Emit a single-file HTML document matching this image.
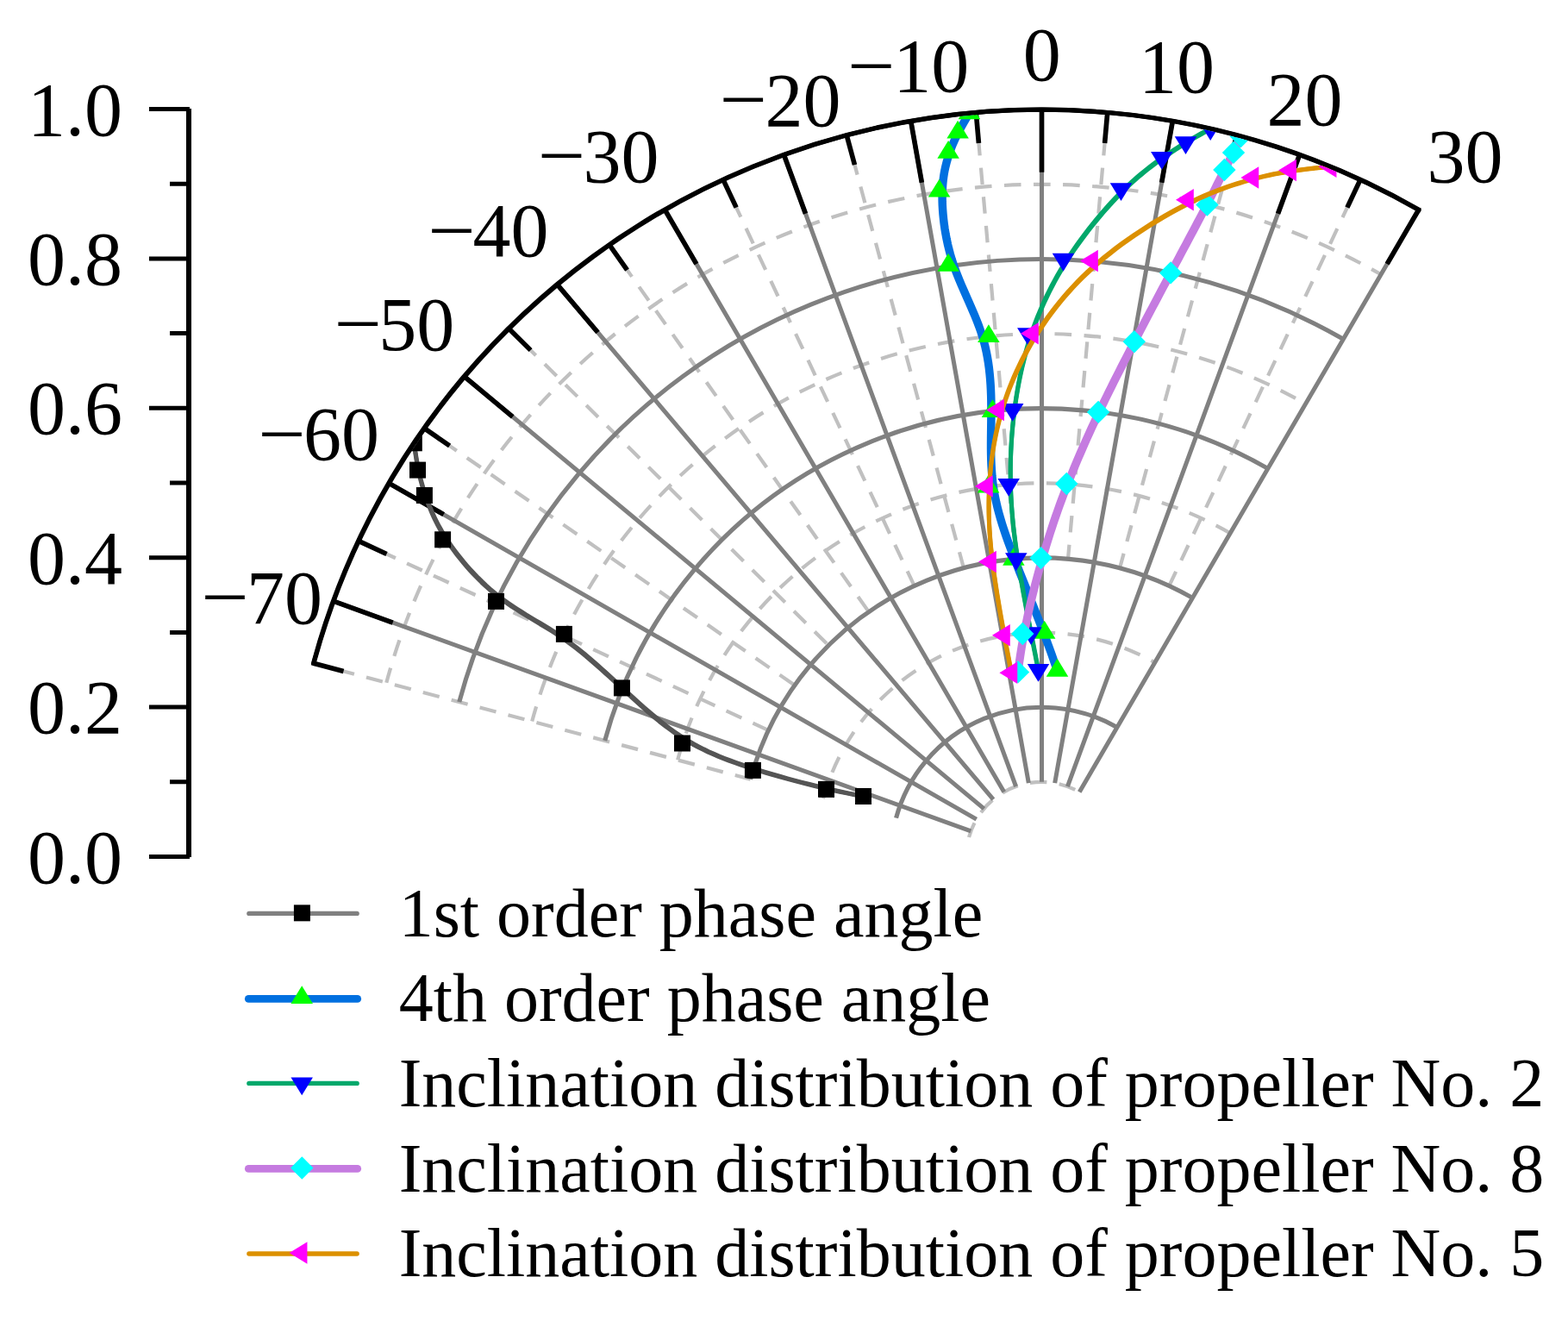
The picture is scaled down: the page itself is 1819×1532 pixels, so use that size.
<!DOCTYPE html>
<html lang="en"><head><meta charset="utf-8"><title>Polar chart</title>
<style>html,body{margin:0;padding:0;background:#fff}body{width:1819px;height:1532px;overflow:hidden}svg{display:block}text{font-family:"Liberation Serif",serif;fill:#000}.t{font-size:88px}.l{font-size:80px}</style></head><body>
<svg width="1819" height="1532" viewBox="0 0 1819 1532" role="img" aria-label="Polar chart of phase angles and propeller inclination distributions">
<rect width="1819" height="1532" fill="#fff"/>
<defs><clipPath id="c"><path d="M1208.5 993.5L366.43 769.98A871.77 863.6 0 0 1 1644.39 245.6Z"/></clipPath></defs>
<g transform="matrix(1.00947 0 0 1 -11.44 0)" fill="none">
<path d="M371.72 769.29L873.79 903.81" stroke="#c0c0c0" stroke-width="4.2" stroke-dasharray="19.4 14.35" stroke-dashoffset="4.8"/>
<path d="M423.37 627.39L894.45 847.05" stroke="#c0c0c0" stroke-width="4.2" stroke-dasharray="19.4 14.35" stroke-dashoffset="6.2"/>
<path d="M498.87 496.61L924.65 794.74" stroke="#c0c0c0" stroke-width="4.2" stroke-dasharray="19.4 14.35" stroke-dashoffset="7.6"/>
<path d="M595.93 380.93L963.47 748.47" stroke="#c0c0c0" stroke-width="4.2" stroke-dasharray="19.4 14.35" stroke-dashoffset="9.0"/>
<path d="M711.61 283.87L1009.74 709.65" stroke="#c0c0c0" stroke-width="4.2" stroke-dasharray="19.4 14.35" stroke-dashoffset="8.0"/>
<path d="M842.39 208.37L1062.05 679.45" stroke="#c0c0c0" stroke-width="4.2" stroke-dasharray="19.4 14.35" stroke-dashoffset="5.3"/>
<path d="M984.29 156.72L1118.81 658.79" stroke="#c0c0c0" stroke-width="4.2" stroke-dasharray="19.4 14.35" stroke-dashoffset="5.6"/>
<path d="M1133 130.5L1178.3 648.3" stroke="#c0c0c0" stroke-width="4.2" stroke-dasharray="19.4 14.35" stroke-dashoffset="3.1"/>
<path d="M1284 130.5L1238.7 648.3" stroke="#c0c0c0" stroke-width="4.2" stroke-dasharray="19.4 14.35" stroke-dashoffset="3.1"/>
<path d="M1432.71 156.72L1298.19 658.79" stroke="#c0c0c0" stroke-width="4.2" stroke-dasharray="19.4 14.35" stroke-dashoffset="4.0"/>
<path d="M1574.61 208.37L1354.95 679.45" stroke="#c0c0c0" stroke-width="4.2" stroke-dasharray="19.4 14.35" stroke-dashoffset="4.8"/>
<path d="M1124.82 971.08A86.63 86.63 0 0 1 1251.82 918.48" stroke="#c0c0c0" stroke-width="4.2" stroke-dasharray="19.4 14.35" stroke-dashoffset="1.5"/>
<path d="M957.47 926.24A259.89 259.89 0 0 1 1338.44 768.43" stroke="#c0c0c0" stroke-width="4.2" stroke-dasharray="19.4 14.35" stroke-dashoffset="1.5"/>
<path d="M790.11 881.39A433.15 433.15 0 0 1 1425.08 618.38" stroke="#c0c0c0" stroke-width="4.2" stroke-dasharray="19.4 14.35" stroke-dashoffset="1.5"/>
<path d="M622.75 836.55A606.41 606.41 0 0 1 1511.7 468.33" stroke="#c0c0c0" stroke-width="4.2" stroke-dasharray="19.4 14.35" stroke-dashoffset="1.5"/>
<path d="M455.4 791.71A779.67 779.67 0 0 1 1598.34 318.29" stroke="#c0c0c0" stroke-width="4.2" stroke-dasharray="19.4 14.35" stroke-dashoffset="1.5"/>
<path d="M394.44 697.21L1127.09 963.87M458.26 560.35L1133.48 950.18M544.88 436.65L1142.14 937.82M651.65 329.88L1152.82 927.14M775.35 243.26L1165.18 918.48M912.21 179.44L1178.87 912.09M1058.07 140.36L1193.46 908.19M1208.5 127.2L1208.5 906.87M1358.93 140.36L1223.54 908.19M1504.79 179.44L1238.13 912.09M1641.65 243.26L1251.82 918.48" stroke="#808080" stroke-width="5.0"/>
<path d="M1041.14 948.66A173.26 173.26 0 0 1 1295.13 843.45M873.79 903.81A346.52 346.52 0 0 1 1381.76 693.4M706.43 858.97A519.78 519.78 0 0 1 1468.39 543.36M539.07 814.13A693.04 693.04 0 0 1 1555.02 393.31" stroke="#808080" stroke-width="5.1"/>
<path d="M394.44 697.21L462.67 722.04M458.26 560.35L521.14 596.65M544.88 436.65L600.49 483.32M651.65 329.88L698.32 385.49M775.35 243.26L811.65 306.14M912.21 179.44L937.04 247.67M1058.07 140.36L1070.68 211.86M1208.5 127.2L1208.5 199.8M1358.93 140.36L1346.32 211.86M1504.79 179.44L1479.96 247.67M1641.65 243.26L1605.35 306.14M371.72 769.29L406.11 778.5M423.37 627.39L455.63 642.43M498.87 496.61L528.03 517.03M595.93 380.93L621.11 406.11M711.61 283.87L732.03 313.03M842.39 208.37L857.43 240.63M984.29 156.72L993.5 191.11M1133 130.5L1136.1 165.96M1284 130.5L1280.9 165.96M1432.71 156.72L1423.5 191.11M1574.61 208.37L1559.57 240.63" stroke="#000" stroke-width="5.6"/>
<defs><path id="oa" d="M371.72 769.29A866.3 866.3 0 0 1 1641.65 243.26" stroke-linecap="square"/></defs>
<g stroke="#000" stroke-width="3.6"><use href="#oa" x="-0.8" y="-0.8"/><use href="#oa" x="0.8" y="-0.8"/><use href="#oa" x="-0.8" y="0.8"/><use href="#oa" x="0.8" y="0.8"/></g>
</g>
<path d="M216 126H222V994H216ZM173 991H220V996H173ZM197 904.3H220V909.3H197ZM173 817.6H220V822.6H173ZM197 730.9H220V735.9H197ZM173 644.2H220V649.2H173ZM197 557.5H220V562.5H197ZM173 470.8H220V475.8H173ZM197 384.1H220V389.1H197ZM173 297.4H220V302.4H173ZM197 210.7H220V215.7H197ZM173 124H220V129H173Z" fill="#000"/>
<text class="t" x="142" y="1023.5" text-anchor="end">0.0</text>
<text class="t" x="142" y="850.1" text-anchor="end">0.2</text>
<text class="t" x="142" y="676.7" text-anchor="end">0.4</text>
<text class="t" x="142" y="503.3" text-anchor="end">0.6</text>
<text class="t" x="142" y="329.9" text-anchor="end">0.8</text>
<text class="t" x="142" y="156.5" text-anchor="end">1.0</text>
<text class="t" x="233.6" y="722.3" textLength="55.4" lengthAdjust="spacingAndGlyphs">−</text>
<text class="t" x="373.9" y="722.9" text-anchor="end">70</text>
<text class="t" x="299.4" y="532.7" textLength="55.4" lengthAdjust="spacingAndGlyphs">−</text>
<text class="t" x="440" y="533.3" text-anchor="end">60</text>
<text class="t" x="387.7" y="405.4" textLength="55.4" lengthAdjust="spacingAndGlyphs">−</text>
<text class="t" x="527.3" y="406" text-anchor="end">50</text>
<text class="t" x="496.5" y="296.7" textLength="55.4" lengthAdjust="spacingAndGlyphs">−</text>
<text class="t" x="636.5" y="297.3" text-anchor="end">40</text>
<text class="t" x="624.1" y="210.3" textLength="55.4" lengthAdjust="spacingAndGlyphs">−</text>
<text class="t" x="764.4" y="210.9" text-anchor="end">30</text>
<text class="t" x="834.7" y="145.1" textLength="55.4" lengthAdjust="spacingAndGlyphs">−</text>
<text class="t" x="975.4" y="145.7" text-anchor="end">20</text>
<text class="t" x="983.2" y="105.7" textLength="55.4" lengthAdjust="spacingAndGlyphs">−</text>
<text class="t" x="1124.2" y="106.3" text-anchor="end">10</text>
<text class="t" x="1230.8" y="93" text-anchor="end">0</text>
<text class="t" x="1409" y="106.7" text-anchor="end">10</text>
<text class="t" x="1557.5" y="145.1" text-anchor="end">20</text>
<text class="t" x="1743.6" y="210.7" text-anchor="end">30</text>
<g clip-path="url(#c)" fill="none" stroke-linejoin="round">
<defs><path id="s0" d="M480.31 513.8L481.2 520.26L482.1 526.25L482.99 531.81L483.88 536.98L484.79 541.79L485.71 546.3L486.64 550.53L487.59 554.52L488.57 558.31L489.58 561.95L490.61 565.47L491.69 568.91L492.8 572.3L493.96 575.7L495.16 579.13L496.43 582.59L497.77 586.11L499.18 589.67L500.69 593.29L502.31 596.98L504.04 600.72L505.9 604.54L507.9 608.43L510.05 612.4L512.36 616.46L514.85 620.61L517.52 624.85L520.38 629.18L523.45 633.62L526.72 638.14L530.18 642.73L533.82 647.36L537.64 652.02L541.62 656.68L545.75 661.32L550.03 665.94L554.45 670.49L559.01 674.98L563.68 679.37L568.46 683.65L573.35 687.8L578.33 691.8L583.4 695.63L588.55 699.31L593.76 702.87L599.03 706.31L604.34 709.67L609.69 712.96L615.06 716.21L620.44 719.44L625.83 722.66L631.2 725.9L636.56 729.18L641.89 732.53L647.18 735.95L652.42 739.48L657.61 743.13L662.74 746.9L667.81 750.78L672.85 754.75L677.84 758.82L682.81 762.97L687.74 767.19L692.65 771.49L697.55 775.84L702.43 780.24L707.31 784.68L712.18 789.15L717.06 793.65L721.95 798.17L726.85 802.69L731.78 807.21L736.72 811.71L741.69 816.18L746.69 820.62L751.72 824.99L756.78 829.3L761.89 833.53L767.03 837.67L772.22 841.71L777.45 845.62L782.74 849.41L788.08 853.06L793.47 856.55L798.93 859.88L804.47 863.05L810.08 866.09L815.8 868.99L821.62 871.78L827.57 874.46L833.65 877.05L839.88 879.56L846.27 882.01L852.82 884.4L859.57 886.75L866.51 889.07L873.66 891.37L881.02 893.67L888.62 895.97L896.44 898.27L904.46 900.57L912.66 902.86L921.04 905.12L929.57 907.36L938.23 909.57L947.03 911.74L955.93 913.86L964.92 915.92L973.99 917.92L983.12 919.86L992.3 921.72L1001.5 923.5"/></defs>
<g stroke="#555555" stroke-width="2.6"><use href="#s0" x="-1.2" y="-1.2"/><use href="#s0" x="1.2" y="-1.2"/><use href="#s0" x="-1.2" y="1.2"/><use href="#s0" x="1.2" y="1.2"/><use href="#s0" stroke-width="3.0"/></g>
<rect x="470.81" y="504.3" width="19" height="19" fill="#000"/>
<rect x="475" y="535.6" width="19" height="19" fill="#000"/>
<rect x="482.9" y="565" width="19" height="19" fill="#000"/>
<rect x="504.1" y="616.3" width="19" height="19" fill="#000"/>
<rect x="566" y="687.9" width="19" height="19" fill="#000"/>
<rect x="644.9" y="725.9" width="19" height="19" fill="#000"/>
<rect x="711.95" y="788.4" width="19" height="19" fill="#000"/>
<rect x="782" y="852.5" width="19" height="19" fill="#000"/>
<rect x="863.9" y="883.9" width="19" height="19" fill="#000"/>
<rect x="949" y="905.9" width="19" height="19" fill="#000"/>
<rect x="992" y="914" width="19" height="19" fill="#000"/>
<path d="M1124.46 131.21L1121.71 135.83L1119.19 140.15L1116.89 144.2L1114.77 148.01L1112.84 151.6L1111.07 154.99L1109.46 158.23L1107.98 161.32L1106.62 164.31L1105.36 167.21L1104.2 170.05L1103.11 172.86L1102.08 175.67L1101.1 178.5L1100.15 181.38L1099.24 184.31L1098.37 187.32L1097.55 190.42L1096.78 193.6L1096.06 196.9L1095.41 200.31L1094.83 203.86L1094.33 207.54L1093.9 211.38L1093.56 215.38L1093.31 219.56L1093.15 223.93L1093.1 228.5L1093.15 233.27L1093.32 238.24L1093.61 243.39L1094.02 248.7L1094.56 254.15L1095.23 259.74L1096.04 265.43L1097 271.22L1098.12 277.1L1099.39 283.03L1100.82 289.01L1102.42 295.02L1104.2 301.05L1106.15 307.07L1108.28 313.07L1110.58 319.06L1112.99 325.04L1115.51 331L1118.1 336.96L1120.73 342.92L1123.38 348.87L1126.01 354.83L1128.59 360.79L1131.11 366.76L1133.52 372.75L1135.8 378.74L1137.93 384.76L1139.87 390.8L1141.6 396.86L1143.12 402.95L1144.46 409.05L1145.61 415.18L1146.6 421.32L1147.43 427.48L1148.12 433.66L1148.68 439.85L1149.12 446.05L1149.44 452.26L1149.68 458.48L1149.83 464.7L1149.9 470.93L1149.92 477.17L1149.88 483.4L1149.82 489.64L1149.74 495.88L1149.66 502.11L1149.59 508.34L1149.55 514.57L1149.56 520.79L1149.64 527L1149.79 533.21L1150.04 539.4L1150.4 545.58L1150.88 551.75L1151.51 557.91L1152.3 564.05L1153.26 570.18L1154.39 576.3L1155.68 582.45L1157.14 588.62L1158.76 594.85L1160.54 601.15L1162.47 607.53L1164.55 614.01L1166.78 620.61L1169.14 627.35L1171.65 634.24L1174.29 641.3L1177.07 648.54L1179.97 655.99L1182.99 663.66L1186.12 671.53L1189.35 679.59L1192.65 687.84L1196.02 696.26L1199.43 704.84L1202.87 713.57L1206.33 722.43L1209.78 731.41L1213.22 740.5L1216.63 749.68L1219.99 758.95L1223.28 768.3L1226.5 777.7" stroke="#0070e0" stroke-width="9.5"/>
<path d="M1124.46 117.34L1137.21 138.14H1111.71Z" fill="#00ff00"/>
<path d="M1111.1 139.63L1123.85 160.43H1098.35Z" fill="#00ff00"/>
<path d="M1100.1 163.03L1112.85 183.83H1087.35Z" fill="#00ff00"/>
<path d="M1089.6 207.73L1102.35 228.53H1076.85Z" fill="#00ff00"/>
<path d="M1100.1 293.83L1112.85 314.63H1087.35Z" fill="#00ff00"/>
<path d="M1146.9 376.13L1159.65 396.93H1134.15Z" fill="#00ff00"/>
<path d="M1151.5 463.23L1164.25 484.03H1138.75Z" fill="#00ff00"/>
<path d="M1146.6 550.73L1159.35 571.53H1133.85Z" fill="#00ff00"/>
<path d="M1175.9 634.93L1188.65 655.73H1163.15Z" fill="#00ff00"/>
<path d="M1211.7 719.83L1224.45 740.63H1198.95Z" fill="#00ff00"/>
<path d="M1226.5 763.83L1239.25 784.63H1213.75Z" fill="#00ff00"/>
<defs><path id="s2" d="M1404.18 149.17L1398.26 152.48L1392.75 155.59L1387.63 158.53L1382.86 161.3L1378.41 163.94L1374.24 166.46L1370.31 168.87L1366.6 171.2L1363.06 173.47L1359.67 175.69L1356.38 177.89L1353.18 180.07L1350.01 182.27L1346.84 184.5L1343.65 186.78L1340.43 189.12L1337.17 191.53L1333.86 194.03L1330.5 196.63L1327.09 199.35L1323.62 202.19L1320.08 205.18L1316.48 208.31L1312.8 211.62L1309.03 215.1L1305.19 218.77L1301.25 222.65L1297.22 226.75L1293.09 231.07L1288.87 235.61L1284.59 240.36L1280.26 245.28L1275.9 250.39L1271.52 255.64L1267.14 261.04L1262.77 266.57L1258.44 272.21L1254.16 277.95L1249.95 283.78L1245.82 289.67L1241.79 295.61L1237.88 301.6L1234.1 307.61L1230.46 313.65L1226.94 319.7L1223.56 325.78L1220.3 331.88L1217.17 338L1214.17 344.13L1211.29 350.28L1208.54 356.44L1205.9 362.62L1203.39 368.81L1201 375.01L1198.72 381.22L1196.57 387.43L1194.52 393.66L1192.59 399.89L1190.77 406.13L1189.05 412.37L1187.44 418.61L1185.92 424.86L1184.5 431.11L1183.18 437.36L1181.94 443.61L1180.79 449.87L1179.72 456.12L1178.72 462.36L1177.81 468.61L1176.97 474.85L1176.19 481.09L1175.49 487.32L1174.86 493.55L1174.29 499.77L1173.79 505.99L1173.37 512.21L1173.01 518.42L1172.71 524.62L1172.49 530.83L1172.33 537.03L1172.25 543.22L1172.22 549.41L1172.27 555.6L1172.38 561.78L1172.56 567.97L1172.81 574.16L1173.13 580.39L1173.52 586.65L1173.98 592.98L1174.52 599.38L1175.13 605.88L1175.83 612.48L1176.6 619.21L1177.45 626.08L1178.38 633.1L1179.4 640.29L1180.5 647.67L1181.69 655.26L1182.97 663.06L1184.33 671.06L1185.76 679.24L1187.26 687.6L1188.82 696.12L1190.44 704.77L1192.11 713.54L1193.81 722.42L1195.55 731.38L1197.31 740.43L1199.1 749.52L1200.89 758.66L1202.7 767.83L1204.5 777"/></defs>
<g stroke="#00a86b" stroke-width="2.6"><use href="#s2" x="-1.2" y="-1.2"/><use href="#s2" x="1.2" y="-1.2"/><use href="#s2" x="-1.2" y="1.2"/><use href="#s2" x="1.2" y="1.2"/><use href="#s2" stroke-width="3.0"/></g>
<path d="M1404.18 163.03L1416.93 142.23H1391.43Z" fill="#0000ff"/>
<path d="M1375.5 178.97L1388.25 158.17H1362.75Z" fill="#0000ff"/>
<path d="M1347.8 196.77L1360.55 175.97H1335.05Z" fill="#0000ff"/>
<path d="M1300.5 233.07L1313.25 212.27H1287.75Z" fill="#0000ff"/>
<path d="M1233.5 314.67L1246.25 293.87H1220.75Z" fill="#0000ff"/>
<path d="M1192.8 401.07L1205.55 380.27H1180.05Z" fill="#0000ff"/>
<path d="M1174.7 488.87L1187.45 468.07H1161.95Z" fill="#0000ff"/>
<path d="M1170.2 575.77L1182.95 554.97H1157.45Z" fill="#0000ff"/>
<path d="M1178.8 661.97L1191.55 641.17H1166.05Z" fill="#0000ff"/>
<path d="M1196.1 748.07L1208.85 727.27H1183.35Z" fill="#0000ff"/>
<path d="M1204.5 790.87L1217.25 770.07H1191.75Z" fill="#0000ff"/>
<path d="M1439.6 158L1437.8 161.92L1436.1 165.59L1434.49 169.03L1432.94 172.28L1431.47 175.34L1430.05 178.26L1428.68 181.04L1427.35 183.71L1426.05 186.29L1424.77 188.81L1423.51 191.3L1422.25 193.76L1420.99 196.24L1419.72 198.74L1418.42 201.3L1417.1 203.92L1415.75 206.61L1414.35 209.38L1412.91 212.25L1411.41 215.23L1409.85 218.31L1408.22 221.53L1406.52 224.87L1404.74 228.36L1402.88 232.01L1400.91 235.81L1398.85 239.8L1396.68 243.97L1394.4 248.33L1392.02 252.87L1389.53 257.58L1386.96 262.44L1384.31 267.44L1381.58 272.57L1378.79 277.82L1375.94 283.16L1373.04 288.59L1370.1 294.09L1367.13 299.66L1364.13 305.27L1361.12 310.91L1358.1 316.57L1355.08 322.23L1352.06 327.91L1349.04 333.58L1346.02 339.27L1343 344.96L1339.98 350.66L1336.96 356.36L1333.95 362.07L1330.93 367.79L1327.92 373.52L1324.91 379.26L1321.91 385L1318.9 390.75L1315.9 396.52L1312.9 402.29L1309.91 408.07L1306.92 413.86L1303.94 419.66L1300.97 425.47L1298.01 431.29L1295.06 437.12L1292.13 442.95L1289.21 448.8L1286.31 454.65L1283.43 460.51L1280.57 466.38L1277.73 472.25L1274.92 478.13L1272.13 484.02L1269.36 489.92L1266.62 495.83L1263.91 501.74L1261.23 507.66L1258.57 513.6L1255.95 519.54L1253.36 525.5L1250.79 531.46L1248.26 537.44L1245.77 543.44L1243.3 549.44L1240.88 555.46L1238.48 561.5L1236.13 567.55L1233.8 573.64L1231.51 579.77L1229.24 585.96L1226.99 592.23L1224.76 598.59L1222.55 605.07L1220.35 611.66L1218.16 618.4L1215.98 625.29L1213.79 632.35L1211.61 639.6L1209.42 647.06L1207.22 654.72L1205.02 662.62L1202.82 670.74L1200.62 679.06L1198.46 687.56L1196.33 696.24L1194.26 705.07L1192.25 714.03L1190.31 723.13L1188.46 732.33L1186.72 741.62L1185.09 750.99L1183.58 760.42L1182.22 769.9L1181 779.4" stroke="#c57be0" stroke-width="9.5"/>
<path d="M1439.6 144.8L1452.8 158L1439.6 171.2L1426.4 158Z" fill="#00ffff"/>
<path d="M1431 163.7L1444.2 176.9L1431 190.1L1417.8 176.9Z" fill="#00ffff"/>
<path d="M1420.4 183.8L1433.6 197L1420.4 210.2L1407.2 197Z" fill="#00ffff"/>
<path d="M1400.4 224.4L1413.6 237.6L1400.4 250.8L1387.2 237.6Z" fill="#00ffff"/>
<path d="M1358.1 303.2L1371.3 316.4L1358.1 329.6L1344.9 316.4Z" fill="#00ffff"/>
<path d="M1315.8 383L1329 396.2L1315.8 409.4L1302.6 396.2Z" fill="#00ffff"/>
<path d="M1274.1 464.7L1287.3 477.9L1274.1 491.1L1260.9 477.9Z" fill="#00ffff"/>
<path d="M1237.3 547.8L1250.5 561L1237.3 574.2L1224.1 561Z" fill="#00ffff"/>
<path d="M1207.6 633.9L1220.8 647.1L1207.6 660.3L1194.4 647.1Z" fill="#00ffff"/>
<path d="M1186.3 721.8L1199.5 735L1186.3 748.2L1173.1 735Z" fill="#00ffff"/>
<path d="M1181 766.2L1194.2 779.4L1181 792.6L1167.8 779.4Z" fill="#00ffff"/>
<defs><path id="s4" d="M1543.5 193.29L1533.91 194.19L1525.01 195.1L1516.75 196.03L1509.07 196.97L1501.91 197.93L1495.23 198.91L1488.95 199.93L1483.03 200.98L1477.4 202.06L1472.01 203.19L1466.79 204.37L1461.7 205.6L1456.68 206.89L1451.66 208.23L1446.6 209.65L1441.48 211.14L1436.29 212.72L1431.02 214.4L1425.66 216.19L1420.21 218.1L1414.65 220.16L1408.98 222.36L1403.18 224.72L1397.24 227.25L1391.16 229.96L1384.93 232.87L1378.53 235.98L1371.97 239.32L1365.22 242.88L1358.33 246.65L1351.31 250.64L1344.19 254.82L1337 259.18L1329.77 263.72L1322.53 268.42L1315.31 273.26L1308.13 278.25L1301.03 283.35L1294.02 288.58L1287.15 293.9L1280.43 299.32L1273.9 304.82L1267.58 310.38L1261.47 316.01L1255.56 321.7L1249.85 327.46L1244.34 333.26L1239.02 339.12L1233.88 345.03L1228.93 350.98L1224.15 356.98L1219.55 363.01L1215.11 369.09L1210.83 375.2L1206.71 381.33L1202.75 387.5L1198.93 393.69L1195.27 399.9L1191.75 406.14L1188.37 412.39L1185.14 418.66L1182.06 424.94L1179.11 431.24L1176.31 437.55L1173.65 443.87L1171.13 450.19L1168.76 456.53L1166.52 462.86L1164.41 469.2L1162.45 475.53L1160.62 481.87L1158.93 488.2L1157.36 494.53L1155.92 500.86L1154.6 507.18L1153.4 513.5L1152.32 519.82L1151.35 526.13L1150.48 532.44L1149.73 538.75L1149.07 545.05L1148.51 551.34L1148.05 557.63L1147.68 563.92L1147.4 570.2L1147.21 576.49L1147.11 582.81L1147.1 589.16L1147.18 595.57L1147.36 602.05L1147.62 608.62L1147.99 615.29L1148.45 622.07L1149 628.99L1149.66 636.05L1150.41 643.27L1151.26 650.67L1152.22 658.26L1153.27 666.05L1154.42 674.04L1155.66 682.2L1156.98 690.54L1158.37 699.03L1159.84 707.66L1161.36 716.41L1162.95 725.29L1164.59 734.26L1166.27 743.32L1167.98 752.46L1169.73 761.66L1171.51 770.91L1173.3 780.2"/></defs>
<g stroke="#dc9000" stroke-width="2.6"><use href="#s4" x="-1.2" y="-1.2"/><use href="#s4" x="1.2" y="-1.2"/><use href="#s4" x="-1.2" y="1.2"/><use href="#s4" x="1.2" y="1.2"/><use href="#s4" stroke-width="3.0"/></g>
<path d="M1529.64 193.29L1550.44 180.54V206.04Z" fill="#ff00ff"/>
<path d="M1483.13 197.5L1503.93 184.75V210.25Z" fill="#ff00ff"/>
<path d="M1439.43 206.1L1460.23 193.35V218.85Z" fill="#ff00ff"/>
<path d="M1364.03 231.8L1384.83 219.05V244.55Z" fill="#ff00ff"/>
<path d="M1253.03 302.6L1273.83 289.85V315.35Z" fill="#ff00ff"/>
<path d="M1184.03 386.7L1204.83 373.95V399.45Z" fill="#ff00ff"/>
<path d="M1144.13 475.6L1164.93 462.85V488.35Z" fill="#ff00ff"/>
<path d="M1130.93 564.1L1151.73 551.35V576.85Z" fill="#ff00ff"/>
<path d="M1135.03 651.5L1155.83 638.75V664.25Z" fill="#ff00ff"/>
<path d="M1151.03 736.8L1171.83 724.05V749.55Z" fill="#ff00ff"/>
<path d="M1159.43 780.2L1180.23 767.45V792.95Z" fill="#ff00ff"/>
</g>
<path d="M288.9 1059.4H414.1" fill="none" stroke="#808080" stroke-width="5.4" stroke-linecap="round"/>
<rect x="340.9" y="1049.35" width="19" height="19" fill="#000"/>
<text class="l" x="462.7" y="1085.6">1st order phase angle</text>
<path d="M288.35 1158.4H414.65" fill="none" stroke="#0070e0" stroke-width="8.9" stroke-linecap="round"/>
<path d="M350.2 1143.23L362.95 1164.03H337.45Z" fill="#00ff00"/>
<text class="l" x="462.7" y="1184.27">4th order phase angle</text>
<path d="M288.9 1256.4H414.1" fill="none" stroke="#00a86b" stroke-width="5.4" stroke-linecap="round"/>
<path d="M350.2 1270.27L362.95 1249.47H337.45Z" fill="#0000ff"/>
<text class="l" x="462.7" y="1282.94">Inclination distribution of propeller No. 2</text>
<path d="M288.35 1355.4H414.65" fill="none" stroke="#c57be0" stroke-width="8.9" stroke-linecap="round"/>
<path d="M350.3 1341.3L363.5 1354.5L350.3 1367.7L337.1 1354.5Z" fill="#00ffff"/>
<text class="l" x="462.7" y="1381.61">Inclination distribution of propeller No. 8</text>
<path d="M288.9 1454.05H414.1" fill="none" stroke="#dc9000" stroke-width="5.4" stroke-linecap="round"/>
<path d="M335.63 1452.95L356.43 1440.2V1465.7Z" fill="#ff00ff"/>
<text class="l" x="462.7" y="1480.28">Inclination distribution of propeller No. 5</text>
</svg></body></html>
